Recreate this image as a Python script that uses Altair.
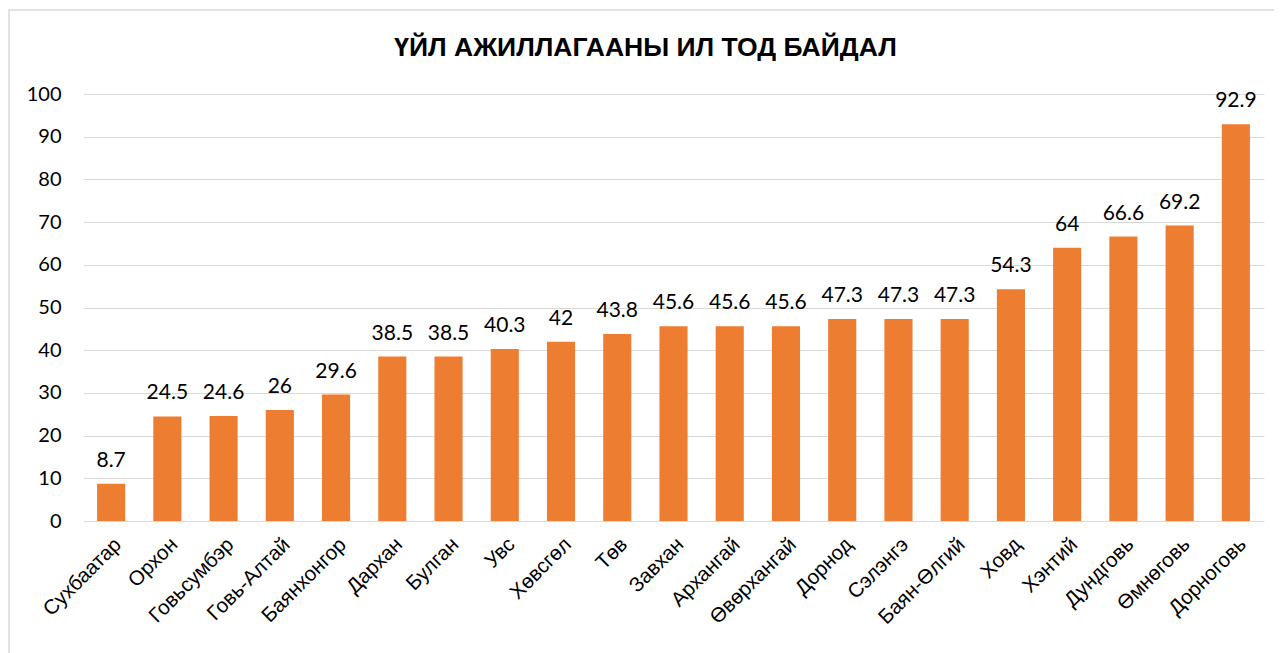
import altair as alt
import pandas as pd

provinces = ["Сухбаатар", "Орхон", "Говьсумбэр", "Говь-Алтай", "Баянхонгор", "Дархан",
             "Булган", "Увс", "Хөвсгөл", "Төв", "Завхан", "Архангай", "Өвөрхангай",
             "Дорнод", "Сэлэнгэ", "Баян-Өлгий", "Ховд", "Хэнтий", "Дундговь",
             "Өмнөговь", "Дорноговь"]
scores = [8.7, 24.5, 24.6, 26, 29.6, 38.5, 38.5, 40.3, 42, 43.8, 45.6, 45.6, 45.6,
          47.3, 47.3, 47.3, 54.3, 64, 66.6, 69.2, 92.9]
title_text = ["ҮЙЛ АЖИЛЛАГААНЫ ИЛ ТОД БАЙДАЛ"]

df = pd.DataFrame({"province": provinces, "score": scores})
tdf = pd.DataFrame({"t": title_text})

W, H = 1181, 427

x = alt.X("province:N", sort=provinces, title=None,
          scale=alt.Scale(paddingInner=0.5, paddingOuter=0.25),
          axis=alt.Axis(labelAngle=-45, labelAlign="right", labelBaseline="top",
                        labelFont="Liberation Sans", labelFontSize=20.5, labelColor="#000000",
                        labelPadding=13, ticks=False, domain=False, labelOverlap=False))
y = alt.Y("score:Q", title=None,
          scale=alt.Scale(domain=[0, 100], nice=False),
          axis=alt.Axis(values=list(range(0, 101, 10)), ticks=False, domain=False,
                        labelFont="Lato", labelFontSize=20, labelColor="#000000",
                        labelPadding=22, gridColor="#d9d9d9", gridWidth=1.2))

border = alt.Chart(tdf).mark_rect(fillOpacity=0, stroke="#d9d9d9", strokeWidth=1.5).encode(
    x=alt.value(-74), x2=alt.value(W + 40), y=alt.value(-84), y2=alt.value(H + 200)
)

title = alt.Chart(tdf).mark_text(font="Liberation Sans", fontSize=26.5, fontWeight="bold",
                                 color="#000000", align="center", baseline="middle").encode(
    x=alt.value(W / 2 - 28), y=alt.value(-46), text="t:N"
)

bars = alt.Chart(df).mark_bar(color="#ED7D31").encode(x=x, y=y)

labels = alt.Chart(df).mark_text(baseline="alphabetic", dy=-17, font="Lato", fontSize=21,
                                 color="#000000").encode(
    x=alt.X("province:N", sort=provinces),
    y="score:Q",
    text=alt.Text("score:Q"),
)

chart = alt.layer(border, title, bars, labels).properties(
    width=W, height=H,
    autosize=alt.AutoSizeParams(type="none"),
    padding={"left": 75, "top": 86, "right": 10, "bottom": 132},
).configure_view(stroke=None, clip=False)

chart.save("out.html", embed_options={"renderer": "svg", "actions": False})
